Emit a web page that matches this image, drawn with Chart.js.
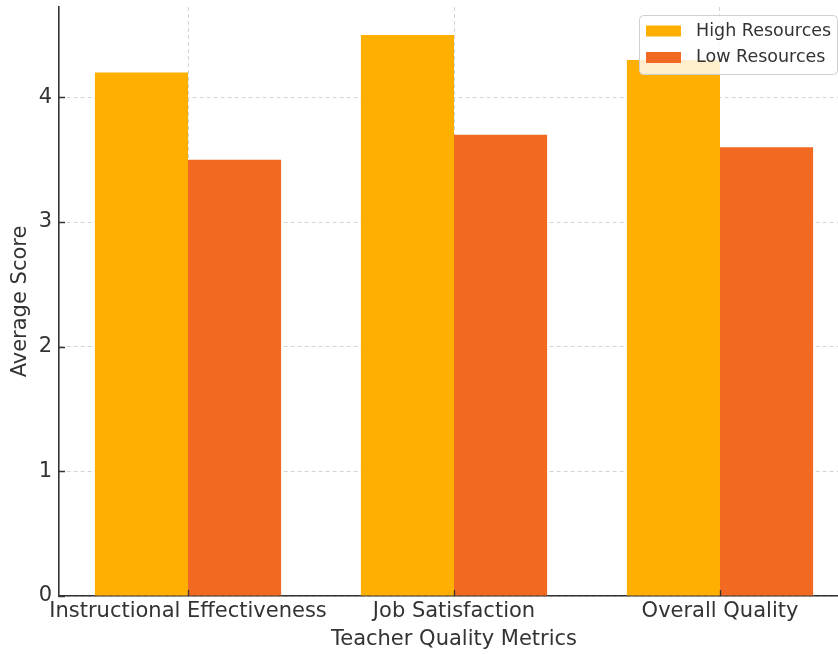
<!DOCTYPE html>
<html lang="en">
<head>
<meta charset="UTF-8" />
<title>Teacher Quality Metrics</title>
<style>
  html,body{margin:0;padding:0;background:#fff;overflow:hidden;}
  .wrap{width:838px;height:654px;overflow:hidden;}
  canvas{display:block;}
</style>
<script src="https://cdn.jsdelivr.net/npm/chart.js"></script>
</head>
<body>
<div class="wrap"><canvas id="chart" width="849" height="654"></canvas></div>
<script>
/* ====== data ====== */
const categories = ['Instructional Effectiveness', 'Job Satisfaction', 'Overall Quality'];
const highRes    = [4.2, 4.5, 4.3];
const lowRes     = [3.5, 3.7, 3.6];
const yTicks     = [0, 1, 2, 3, 4];

/* ====== style ====== */
const INK  = '#333333';
const GRID = '#d4d4d4';
const HIGH = '#FFAF00';
const LOW  = '#F26A22';
Chart.defaults.font.family = "'DejaVu Sans', sans-serif";
Chart.defaults.color = INK;

// matplotlib-ish ticks that point into the plot
const inwardTicks = {
  id: 'inwardTicks',
  afterDraw(c) {
    const {ctx, chartArea: a, scales: {x, y}} = c;
    ctx.save();
    ctx.strokeStyle = INK; ctx.lineWidth = 1.3;
    ctx.beginPath();
    x.ticks.forEach(t => {
      const px = Math.round(x.getPixelForValue(t.value)) + 0.5;
      ctx.moveTo(px, a.bottom); ctx.lineTo(px, a.bottom - 6);
    });
    y.ticks.forEach(t => {
      const py = Math.round(y.getPixelForValue(t.value)) + 0.5;
      ctx.moveTo(a.left, py); ctx.lineTo(a.left + 6, py);
    });
    ctx.stroke();
    ctx.restore();
  }
};

// framed legend in the upper right corner of the plot
const boxLegend = {
  id: 'boxLegend',
  afterDraw(c) {
    const {ctx, chartArea: a} = c;
    const w = 198, h = 59, x0 = a.right - 12 - w, y0 = a.top + 8;
    ctx.save();
    ctx.fillStyle = 'rgba(255,255,255,0.8)';
    ctx.strokeStyle = '#d0d0d0'; ctx.lineWidth = 1;
    ctx.beginPath(); ctx.roundRect(x0 + 0.5, y0 + 0.5, w, h, 4); ctx.fill(); ctx.stroke();
    ctx.font = "17.5px 'DejaVu Sans', sans-serif";
    ctx.textBaseline = 'middle';
    c.data.datasets.forEach((ds, i) => {
      const cy = y0 + 16 + i * 26.5;
      ctx.fillStyle = ds.backgroundColor;
      ctx.fillRect(x0 + 7, cy - 5.5, 35, 11);
      ctx.fillStyle = INK;
      ctx.fillText(ds.label, x0 + 57, cy);
    });
    ctx.restore();
  }
};

new Chart(document.getElementById('chart'), {
  type: 'bar',
  data: {
    datasets: [
      {label: 'High Resources', data: highRes.map((v, i) => ({x: i, y: v})),
       backgroundColor: HIGH, borderWidth: 0, categoryPercentage: 0.7, barPercentage: 1},
      {label: 'Low Resources', data: lowRes.map((v, i) => ({x: i, y: v})),
       backgroundColor: LOW, borderWidth: 0, categoryPercentage: 0.7, barPercentage: 1}
    ]
  },
  options: {
    responsive: false, animation: false,
    layout: {padding: {top: 7, right: 0, bottom: 0, left: 0}},
    plugins: {legend: {display: false}, tooltip: {enabled: false}},
    scales: {
      x: {
        type: 'linear', min: -0.485, max: 2.485, offset: false,
        afterBuildTicks: s => { s.ticks = categories.map((_, i) => ({value: i})); },
        afterFit: s => { s.height = 58; s.paddingLeft = 0; s.paddingRight = 0; },
        ticks: {callback: v => categories[v], font: {size: 21}, padding: 3, maxRotation: 0, autoSkip: false},
        grid: {color: GRID, lineWidth: 1, drawTicks: false, offset: false},
        border: {color: INK, width: 1.6, dash: [4, 3]},
        title: {display: true, text: 'Teacher Quality Metrics', font: {size: 21}, padding: {top: 0, bottom: 2}}
      },
      y: {
        min: 0, max: 4.725,
        afterBuildTicks: s => { s.ticks = yTicks.map(v => ({value: v})); },
        afterFit: s => { s.width = 59; s.paddingTop = 0; s.paddingBottom = 0; },
        ticks: {font: {size: 21}, padding: 7},
        grid: {color: GRID, lineWidth: 1, drawTicks: false},
        border: {color: INK, width: 1.6, dash: [4, 3]},
        title: {display: true, text: 'Average Score', font: {size: 21}, padding: {top: 8, bottom: 0}}
      }
    }
  },
  plugins: [inwardTicks, boxLegend]
});
</script>
</body>
</html>
